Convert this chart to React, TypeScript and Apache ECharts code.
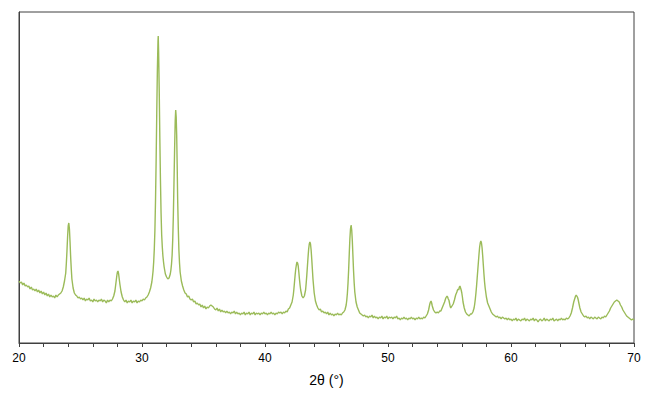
import React, { useEffect, useRef } from "react";
import * as echarts from "echarts";

// 2θ (degrees) and intensity (arbitrary units)
const pattern: [number, number][] = [
  [20.0,62],[20.1,60],[20.2,61],[20.3,58],[20.4,60],[20.5,57],[20.6,58],[20.7,56],[20.8,57],[20.9,54],
  [21.0,56],[21.1,53],[21.2,54],[21.3,52],[21.4,54],[21.5,51],[21.6,53],[21.7,50],[21.8,52],[21.9,49],
  [22.0,51],[22.1,48],[22.2,50],[22.3,47],[22.4,49],[22.5,46],[22.6,48],[22.7,46],[22.8,47],[22.9,45],
  [23.0,48],[23.1,46],[23.2,48],[23.3,49],[23.4,50],[23.5,52],[23.6,56],[23.7,62],[23.8,70],[23.85,80],
  [23.9,92],[23.95,106],[24.0,117],[24.05,120],[24.1,114],[24.15,101],[24.2,86],[24.25,74],[24.3,64],[24.4,55],
  [24.5,50],[24.6,48],[24.7,47],[24.8,45],[24.9,46],[25.0,44],[25.1,45],[25.2,43],[25.3,45],[25.4,42],
  [25.5,44],[25.6,43],[25.7,45],[25.8,42],[25.9,43],[26.0,41],[26.1,44],[26.2,42],[26.3,43],[26.4,41],
  [26.5,43],[26.6,42],[26.7,44],[26.8,41],[26.9,43],[27.0,42],[27.1,40],[27.2,43],[27.3,41],[27.4,43],
  [27.5,42],[27.6,44],[27.7,47],[27.8,52],[27.85,57],[27.9,62],[27.95,67],[28.0,71],[28.05,72],[28.1,69],
  [28.15,64],[28.2,59],[28.3,51],[28.4,46],[28.5,43],[28.6,41],[28.7,43],[28.8,40],[28.9,42],[29.0,41],
  [29.1,43],[29.2,40],[29.3,42],[29.4,41],[29.5,43],[29.6,40],[29.7,42],[29.8,41],[29.9,43],[30.0,42],
  [30.1,44],[30.2,43],[30.3,45],[30.4,46],[30.5,48],[30.6,51],[30.7,55],[30.8,61],[30.85,66],[30.9,72],
  [30.95,81],[31.0,94],[31.05,113],[31.1,143],[31.15,183],[31.2,230],[31.25,273],[31.3,302],[31.32,307],[31.35,292],
  [31.4,253],[31.45,205],[31.5,163],[31.55,130],[31.6,108],[31.65,96],[31.7,87],[31.75,81],[31.8,76],[31.9,69],
  [32.0,66],[32.1,64],[32.2,65],[32.3,69],[32.35,73],[32.4,79],[32.45,88],[32.5,104],[32.55,128],[32.6,160],
  [32.65,193],[32.7,222],[32.74,233],[32.78,226],[32.82,208],[32.86,178],[32.9,143],[32.95,115],[33.0,93],[33.05,80],
  [33.1,71],[33.2,62],[33.3,57],[33.4,53],[33.5,50],[33.6,49],[33.7,46],[33.8,47],[33.9,44],[34.0,43],
  [34.1,44],[34.2,41],[34.3,42],[34.4,39],[34.5,40],[34.6,38],[34.7,39],[34.8,36],[34.9,38],[35.0,35],
  [35.1,37],[35.2,34],[35.3,36],[35.4,35],[35.5,37],[35.6,38],[35.7,37],[35.8,36],[35.9,34],[36.0,33],
  [36.1,35],[36.2,32],[36.3,34],[36.4,31],[36.5,33],[36.6,31],[36.7,32],[36.8,30],[36.9,32],[37.0,30],
  [37.1,31],[37.2,29],[37.3,31],[37.4,30],[37.5,32],[37.6,29],[37.7,31],[37.8,29],[37.9,30],[38.0,28],
  [38.1,30],[38.2,29],[38.3,31],[38.4,28],[38.5,30],[38.6,29],[38.7,31],[38.8,28],[38.9,30],[39.0,29],
  [39.1,31],[39.2,28],[39.3,30],[39.4,29],[39.5,30],[39.6,28],[39.7,30],[39.8,29],[39.9,31],[40.0,29],
  [40.1,30],[40.2,28],[40.3,30],[40.4,29],[40.5,31],[40.6,29],[40.7,30],[40.8,28],[40.9,30],[41.0,29],
  [41.1,31],[41.2,30],[41.3,31],[41.4,29],[41.5,31],[41.6,30],[41.7,32],[41.8,31],[41.9,34],[42.0,35],
  [42.1,38],[42.2,41],[42.3,48],[42.35,54],[42.4,61],[42.45,68],[42.5,74],[42.55,78],[42.6,81],[42.65,80],
  [42.7,77],[42.75,71],[42.8,64],[42.85,58],[42.9,53],[43.0,47],[43.1,45],[43.2,47],[43.3,53],[43.35,60],
  [43.4,68],[43.45,77],[43.5,86],[43.55,94],[43.6,99],[43.65,101],[43.7,99],[43.75,93],[43.8,84],[43.85,74],
  [43.9,64],[44.0,50],[44.1,42],[44.2,38],[44.3,35],[44.4,33],[44.5,34],[44.6,31],[44.7,32],[44.8,30],
  [44.9,31],[45.0,29],[45.1,31],[45.2,28],[45.3,30],[45.4,28],[45.5,29],[45.6,27],[45.7,29],[45.8,28],
  [45.9,30],[46.0,28],[46.1,29],[46.2,28],[46.3,30],[46.4,31],[46.5,33],[46.6,38],[46.65,43],[46.7,50],
  [46.75,60],[46.8,73],[46.85,89],[46.9,104],[46.95,114],[47.0,118],[47.05,113],[47.1,102],[47.15,87],[47.2,72],
  [47.25,60],[47.3,51],[47.4,41],[47.5,36],[47.6,33],[47.7,30],[47.8,29],[47.9,28],[48.0,27],[48.1,28],
  [48.2,26],[48.3,27],[48.4,25],[48.5,27],[48.6,26],[48.7,28],[48.8,25],[48.9,27],[49.0,25],[49.1,26],
  [49.2,24],[49.3,26],[49.4,25],[49.5,27],[49.6,24],[49.7,26],[49.8,25],[49.9,27],[50.0,24],[50.1,26],
  [50.2,25],[50.3,26],[50.4,24],[50.5,26],[50.6,25],[50.7,27],[50.8,24],[50.9,25],[51.0,23],[51.1,25],
  [51.2,24],[51.3,26],[51.4,24],[51.5,25],[51.6,23],[51.7,25],[51.8,24],[51.9,26],[52.0,24],[52.1,25],
  [52.2,23],[52.3,25],[52.4,24],[52.5,26],[52.6,24],[52.7,25],[52.8,24],[52.9,26],[53.0,25],[53.1,27],
  [53.2,29],[53.3,33],[53.35,36],[53.4,39],[53.45,41],[53.5,42],[53.55,40],[53.6,37],[53.65,35],[53.7,33],
  [53.8,31],[53.9,30],[54.0,31],[54.1,30],[54.2,32],[54.3,32],[54.4,35],[54.5,38],[54.6,41],[54.7,45],
  [54.8,47],[54.85,46],[54.9,44],[54.95,43],[55.0,40],[55.05,37],[55.1,35],[55.15,36],[55.2,37],[55.3,39],
  [55.4,43],[55.5,48],[55.6,51],[55.65,53],[55.7,54],[55.75,53],[55.8,56],[55.85,57],[55.9,55],[55.95,53],
  [56.0,50],[56.05,46],[56.1,41],[56.2,35],[56.3,31],[56.4,29],[56.5,28],[56.6,27],[56.7,29],[56.8,29],
  [56.9,31],[57.0,35],[57.05,39],[57.1,44],[57.15,50],[57.2,57],[57.25,65],[57.3,73],[57.35,81],[57.4,89],
  [57.45,96],[57.5,100],[57.55,102],[57.6,100],[57.65,95],[57.7,87],[57.75,78],[57.8,69],[57.85,61],[57.9,55],
  [58.0,46],[58.1,40],[58.2,37],[58.3,34],[58.4,31],[58.5,29],[58.6,28],[58.7,27],[58.8,26],[58.9,27],
  [59.0,25],[59.1,26],[59.2,24],[59.3,26],[59.4,25],[59.5,24],[59.6,25],[59.7,23],[59.8,25],[59.9,23],
  [60.0,24],[60.1,22],[60.2,24],[60.3,23],[60.4,25],[60.5,22],[60.6,24],[60.7,23],[60.8,22],[60.9,24],
  [61.0,23],[61.1,25],[61.2,22],[61.3,24],[61.4,23],[61.5,22],[61.6,24],[61.7,23],[61.8,25],[61.9,22],
  [62.0,24],[62.1,23],[62.2,21],[62.3,23],[62.4,24],[62.5,22],[62.6,23],[62.7,25],[62.8,22],[62.9,24],
  [63.0,23],[63.1,22],[63.2,24],[63.3,23],[63.4,25],[63.5,22],[63.6,23],[63.7,24],[63.8,22],[63.9,24],
  [64.0,23],[64.1,25],[64.2,23],[64.3,24],[64.4,23],[64.5,25],[64.6,24],[64.7,25],[64.8,27],[64.9,30],
  [65.0,35],[65.05,38],[65.1,41],[65.15,43],[65.2,45],[65.25,47],[65.3,48],[65.35,48],[65.4,46],[65.45,44],
  [65.5,41],[65.55,38],[65.6,35],[65.7,31],[65.8,29],[65.9,27],[66.0,26],[66.1,27],[66.2,25],[66.3,26],
  [66.4,24],[66.5,26],[66.6,25],[66.7,24],[66.8,26],[66.9,25],[67.0,24],[67.1,26],[67.2,25],[67.3,24],
  [67.4,26],[67.5,25],[67.6,27],[67.7,26],[67.8,28],[67.9,30],[68.0,32],[68.1,35],[68.2,37],[68.3,39],
  [68.4,41],[68.5,42],[68.6,43],[68.7,42],[68.8,41],[68.9,38],[69.0,36],[69.1,33],[69.2,31],[69.3,29],
  [69.4,27],[69.5,26],[69.6,25],[69.7,24],[69.8,23],[69.9,24],[70.0,23],
];

const xMin = 20;
const xMax = 70;
const xStep = 10;
const yMax = 331;
const xName = "2θ (°)";

export default function App() {
  const ref = useRef<HTMLDivElement>(null);
  useEffect(() => {
    if (!ref.current) return;
    const chart = echarts.init(ref.current, null, { renderer: "svg" });
    const font = "'Liberation Sans', Arial, sans-serif";
    chart.setOption({
      animation: false,
      grid: {
        left: 19,
        right: 19,
        top: 12,
        bottom: 56,
        show: true,
        borderColor: "#404040",
        borderWidth: 1,
        backgroundColor: "#ffffff",
      },
      xAxis: {
        type: "value",
        min: xMin,
        max: xMax,
        interval: xStep,
        name: xName,
        nameLocation: "middle",
        nameGap: 30,
        nameTextStyle: { color: "#000", fontSize: 14, fontFamily: font },
        axisLine: { show: true, lineStyle: { color: "#404040", width: 1 } },
        axisTick: { show: true, inside: false, length: 4, lineStyle: { color: "#404040" } },
        minorTick: { show: true, splitNumber: 5, length: 4, lineStyle: { color: "#404040" } },
        axisLabel: { color: "#000", fontSize: 12, fontFamily: font, margin: 9 },
        splitLine: { show: false },
      },
      yAxis: {
        type: "value",
        min: 0,
        max: yMax,
        axisLine: { show: true, lineStyle: { color: "#404040" } },
        axisTick: { show: false },
        axisLabel: { show: false },
        splitLine: { show: false },
      },
      series: [
        {
          type: "line",
          data: pattern,
          showSymbol: false,
          symbol: "none",
          lineStyle: { color: "#9bbb59", width: 1.4 },
          itemStyle: { color: "#9bbb59" },
        },
      ],
    });
    return () => chart.dispose();
  }, []);
  return (
    <div
      ref={ref}
      style={{ position: "fixed", left: 0, top: 0, width: 653, height: 399, background: "#fff" }}
    />
  );
}
